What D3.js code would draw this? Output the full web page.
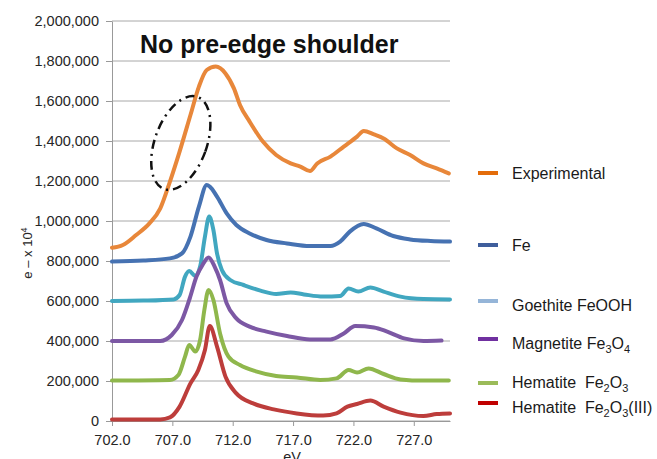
<!DOCTYPE html>
<html>
<head>
<meta charset="utf-8">
<script src="https://cdn.jsdelivr.net/npm/d3@7"></script>
<style>
  body { margin: 0; background: #fff; }
  text { font-family: "Liberation Sans", Arial, sans-serif; }
</style>
</head>
<body>
<div id="chart"></div>
<script>
// spectra: [eV, counts]
const experimental = [[702.0,866000],[702.9,880000],[704.0,930000],[705.1,988000],[706.0,1063000],[706.8,1197000],[707.6,1347000],[708.5,1530000],[709.2,1672000],[709.85,1755000],[710.6,1772000],[711.4,1738000],[712.1,1663000],[712.6,1580000],[713.4,1497000],[714.5,1397000],[715.6,1330000],[716.8,1288000],[717.6,1272000],[718.4,1250000],[719.0,1288000],[720.1,1322000],[721.2,1372000],[722.3,1422000],[722.85,1450000],[723.7,1433000],[724.5,1413000],[725.6,1363000],[726.7,1330000],[727.8,1288000],[728.9,1263000],[729.9,1238000]];
const fe = [[702.0,797000],[704.6,802000],[706.8,813000],[707.8,838000],[708.5,922000],[709.2,1072000],[709.85,1180000],[710.1,1172000],[710.7,1122000],[711.5,1038000],[712.3,980000],[713.4,938000],[714.8,905000],[716.5,888000],[718.4,875000],[720.1,875000],[720.9,897000],[721.7,947000],[722.85,985000],[723.9,963000],[725.3,925000],[726.7,908000],[728.4,900000],[730.0,897000]];
const goethite = [[702.0,600000],[704.6,602000],[707.1,608000],[707.6,630000],[708.05,722000],[708.4,750000],[708.9,725000],[709.3,772000],[709.7,922000],[710.05,1022000],[710.4,955000],[710.7,838000],[711.1,755000],[711.8,705000],[712.9,680000],[714.3,652000],[715.6,635000],[716.8,643000],[717.9,633000],[719.5,622000],[720.9,625000],[721.6,663000],[722.4,647000],[723.4,668000],[724.5,647000],[725.9,622000],[727.8,610000],[730.0,608000]];
const magnetite = [[702.0,400000],[706.0,400000],[706.95,430000],[707.8,505000],[708.45,615000],[709.0,722000],[709.5,780000],[710.0,818000],[710.5,772000],[710.95,705000],[711.5,588000],[712.3,513000],[713.4,472000],[714.8,447000],[716.5,425000],[718.4,408000],[720.1,408000],[721.2,438000],[722.15,475000],[723.7,468000],[724.8,447000],[726.2,413000],[727.8,400000],[729.3,402000]];
const hematite = [[702.0,202000],[706.8,205000],[707.5,230000],[708.05,322000],[708.4,380000],[708.9,347000],[709.3,405000],[709.65,555000],[710.0,655000],[710.4,605000],[710.95,438000],[711.65,322000],[712.6,280000],[714.0,247000],[715.6,225000],[717.3,218000],[719.25,205000],[720.6,213000],[721.6,255000],[722.3,242000],[723.25,263000],[724.5,235000],[725.9,208000],[727.8,202000],[729.9,202000]];
const hematite3 = [[702.0,8000],[706.0,8000],[706.8,18000],[707.6,72000],[708.5,188000],[709.15,255000],[709.7,355000],[710.1,475000],[710.7,372000],[711.4,222000],[712.3,138000],[713.7,88000],[715.4,58000],[717.3,38000],[719.5,27000],[720.6,38000],[721.5,72000],[722.3,85000],[723.4,102000],[724.5,72000],[725.9,42000],[727.8,25000],[728.9,35000],[730.0,38000]];

const xTicks = [702, 707, 712, 717, 722, 727];
const yTicks = d3.range(0, 2000001, 200000);

// legend labels, "_" marks a subscript
const legendNames = ["Experimental", "Fe", "Goethite FeOOH", "Magnetite Fe_3O_4", "Hematite  Fe_2O_3", "Hematite  Fe_2O_3(III)"];

// dimensions
const width = 657, height = 459;
const margin = {top: 21, right: 207, bottom: 38, left: 112};

const x = d3.scaleLinear().domain([702, 730]).range([margin.left, width - margin.right]);
const y = d3.scaleLinear().domain([0, 2000000]).range([height - margin.bottom, margin.top]);

const series = [
  {data: experimental, color: "#E8873A"},
  {data: fe,           color: "#4672B2"},
  {data: goethite,     color: "#41A7C0"},
  {data: magnetite,    color: "#7C58A4"},
  {data: hematite,     color: "#8FB74C"},
  {data: hematite3,    color: "#BD3D3B"}
];
const legendColors = ["#E36C0A", "#3F5E9C", "#95B5D8", "#7030A0", "#9BBB59", "#C00000"];
// swatch / text baseline rows (px)
const legendRows = [[173, 179], [245, 251], [301, 311], [339, 349], [383, 388], [403, 413]];

const svg = d3.select("#chart").append("svg")
  .attr("width", width)
  .attr("height", height);

// gridlines
svg.append("g").selectAll("line")
  .data(yTicks)
  .join("line")
  .attr("x1", x.range()[0]).attr("x2", x.range()[1])
  .attr("y1", d => y(d)).attr("y2", d => y(d))
  .attr("stroke", "#A8A8A8").attr("stroke-width", 1);

// axes
const yAxis = svg.append("g")
  .attr("transform", `translate(${margin.left},0)`)
  .call(d3.axisLeft(y).tickValues(yTicks).tickFormat(d3.format(",")).tickSize(6).tickSizeOuter(0).tickPadding(7));
const xAxis = svg.append("g")
  .attr("transform", `translate(0,${y(0)})`)
  .call(d3.axisBottom(x).tickValues(xTicks).tickFormat(d3.format(".1f")).tickSize(5).tickSizeOuter(0).tickPadding(9));
[yAxis, xAxis].forEach(g => {
  g.select(".domain").attr("stroke", "#999");
  g.selectAll(".tick line").attr("stroke", "#999");
  g.selectAll(".tick text").attr("font-size", 14.5).attr("fill", "#262626")
    .attr("font-family", "'Liberation Sans', Arial, sans-serif");
});

// lines
const line = d3.line().x(d => x(d[0])).y(d => y(d[1])).curve(d3.curveMonotoneX);
svg.append("g").selectAll("path")
  .data(series)
  .join("path")
  .attr("d", d => line(d.data))
  .attr("fill", "none")
  .attr("stroke", d => d.color)
  .attr("stroke-width", 4)
  .attr("stroke-linejoin", "round")
  .attr("stroke-linecap", "round");

// dash-dot ellipse round the rising edge
const cx = x(707.7), cy = y(1390000);
svg.append("ellipse")
  .attr("cx", cx).attr("cy", cy)
  .attr("rx", x(709.85) - x(707.7))
  .attr("ry", y(1390000) - y(1635000))
  .attr("transform", `rotate(20,${cx},${cy})`)
  .attr("fill", "none")
  .attr("stroke", "#111")
  .attr("stroke-width", 2.5)
  .attr("stroke-dasharray", "9,5,2,5");

// title
svg.append("text")
  .attr("x", 140).attr("y", 53)
  .attr("font-size", 25).attr("font-weight", 700).attr("fill", "#111")
  .text("No pre-edge shoulder");

// axis titles
const yTitle = svg.append("text")
  .attr("transform", `translate(32,253) rotate(-90)`)
  .attr("text-anchor", "middle")
  .attr("font-size", 13).attr("fill", "#262626");
yTitle.append("tspan").text("e \u2013 x 10");
yTitle.append("tspan").attr("font-size", 9).attr("dy", -5).text("4");

svg.append("text")
  .attr("x", 292).attr("y", 462)
  .attr("text-anchor", "middle")
  .attr("font-size", 14.5).attr("fill", "#262626")
  .text("eV");

// legend
const legend = svg.append("g");
legendNames.forEach((name, i) => {
  const [sy, ty] = legendRows[i];
  legend.append("line")
    .attr("x1", 478).attr("x2", 498).attr("y1", sy).attr("y2", sy)
    .attr("stroke", legendColors[i]).attr("stroke-width", 4);
  const t = legend.append("text")
    .attr("x", 512).attr("y", ty)
    .attr("font-size", 16).attr("fill", "#1a1a1a")
    .style("white-space", "pre");
  let lowered = false;
  name.split(/(_\d)/).filter(s => s.length).forEach(part => {
    if (part[0] === "_") {
      t.append("tspan").attr("font-size", 11).attr("dy", lowered ? 0 : 4).text(part.slice(1));
      lowered = true;
    } else {
      t.append("tspan").attr("dy", lowered ? -4 : 0).text(part);
      lowered = false;
    }
  });
});
</script>
</body>
</html>
